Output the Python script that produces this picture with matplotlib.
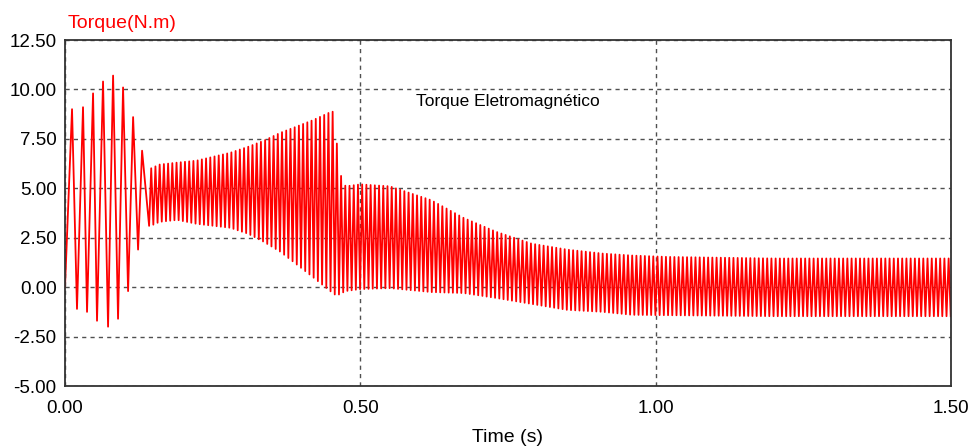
import numpy as np
import matplotlib
matplotlib.use("Agg")
import matplotlib.pyplot as plt

plt.rcParams["font.family"] = ["Liberation Sans", "DejaVu Sans"]
plt.rcParams["axes.unicode_minus"] = False

# ---- data ----
# start-up oscillation: alternating extrema (time s, torque N.m)
startup_t = [0.0, 0.0119, 0.0203, 0.0305, 0.0373, 0.0475, 0.0542, 0.0644,
             0.0729, 0.0814, 0.0898, 0.0983, 0.1068, 0.1153, 0.1237, 0.1305, 0.1424]
startup_v = [0.0, 9.0, -1.1, 9.1, -1.25, 9.8, -1.7, 10.4,
             -2.0, 10.7, -1.6, 10.1, -0.2, 8.6, 1.9, 6.9, 3.1]

# envelope of the dense oscillation after start-up
env_t = [0.145, 0.16, 0.19, 0.223, 0.28, 0.31, 0.336, 0.364, 0.39, 0.42, 0.449,
         0.458, 0.462, 0.475, 0.50, 0.55, 0.62, 0.675, 0.73, 0.79, 0.85, 0.91,
         0.96, 1.02, 1.20, 1.50]
env_upper = [6.0, 6.2, 6.3, 6.4, 6.8, 7.1, 7.4, 7.8, 8.1, 8.45, 8.85,
             8.9, 6.0, 5.1, 5.2, 5.1, 4.4, 3.5, 2.8, 2.2, 1.9, 1.7,
             1.6, 1.53, 1.45, 1.45]
env_lower = [3.1, 3.3, 3.4, 3.2, 3.0, 2.7, 2.3, 1.8, 1.2, 0.5, -0.2,
             -0.4, -0.4, -0.2, -0.1, -0.05, -0.25, -0.3, -0.55, -0.85, -1.15, -1.25,
             -1.4, -1.42, -1.47, -1.47]
carrier_hz = 140.0

x_ticks = [0.0, 0.5, 1.0, 1.5]
x_tick_labels = ["0.00", "0.50", "1.00", "1.50"]
y_ticks = [-5.0, -2.5, 0.0, 2.5, 5.0, 7.5, 10.0, 12.5]
y_tick_labels = ["-5.00", "-2.50", "0.00", "2.50", "5.00", "7.50", "10.00", "12.50"]

# ---- build the trace: start-up extrema followed by envelope extrema ----
half = 0.5 / carrier_hz
dense_t = np.arange(startup_t[-1] + half, 1.5, half)
up = np.interp(dense_t, env_t, env_upper)
lo = np.interp(dense_t, env_t, env_lower)
dense_v = np.where(np.arange(len(dense_t)) % 2 == 0, up, lo)
t_all = np.concatenate([startup_t, dense_t])
v_all = np.concatenate([startup_v, dense_v])

# ---- figure ----
W, H = 971, 448
fig = plt.figure(figsize=(W / 100, H / 100), dpi=100)
ax = fig.add_axes([65 / W, 1 - 386 / H, (951 - 65) / W, (386 - 40) / H])

ax.plot(t_all, v_all, color="#ff0000", lw=1.3)

ax.set_xlim(0, 1.5)
ax.set_ylim(-5, 12.5)
ax.set_xticks(x_ticks)
ax.set_xticklabels(x_tick_labels)
ax.set_yticks(y_ticks)
ax.set_yticklabels(y_tick_labels)
ax.tick_params(axis="both", length=0, labelsize=13.5, colors="black")
ax.tick_params(axis="y", pad=6)
ax.tick_params(axis="x", pad=10)
ax.grid(True, color="#505050", linestyle=(0, (3, 3)), lw=1.0)
for s in ax.spines.values():
    s.set_color("#333333")
    s.set_linewidth(1.3)

ax.text(0.75, 9.41, "Torque Eletromagnético", ha="center", va="center",
        fontsize=12.5, color="black")
fig.text(68 / W, 1 - 24 / H, "Torque(N.m)", ha="left", va="center",
         fontsize=14, color="#ff0000")
fig.text(508 / W, 1 - 437 / H, "Time (s)", ha="center", va="center",
         fontsize=14, color="black")

fig.savefig("out.png", dpi=100)
